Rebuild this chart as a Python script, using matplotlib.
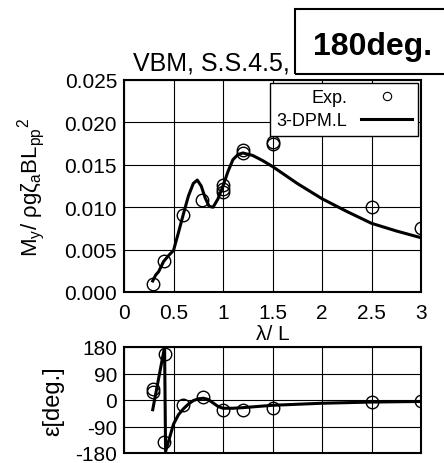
import numpy as np
import matplotlib
matplotlib.use('Agg')
import matplotlib.pyplot as plt
from matplotlib.lines import Line2D
from matplotlib.patches import Rectangle

plt.rcParams['font.family'] = ['Liberation Sans', 'DejaVu Sans']
plt.rcParams['mathtext.fontset'] = 'custom'
plt.rcParams['mathtext.rm'] = 'Liberation Sans'
plt.rcParams['mathtext.it'] = 'Liberation Sans:italic'
plt.rcParams['axes.unicode_minus'] = False

# esperimenti: ampiezza VBM
lam_exp = [0.29, 0.40, 0.60, 0.79, 1.0, 1.0, 1.0, 1.2, 1.2, 1.5, 1.5, 2.5, 3.0]
amp_exp = [0.0010, 0.0036, 0.0091, 0.0109, 0.0126, 0.0122, 0.0118,
           0.0167, 0.0164, 0.01765, 0.0175, 0.0100, 0.0075]

# calcolo 3-DPM.L: ampiezza
lam_calc = [0.29, 0.32, 0.35, 0.40, 0.45, 0.50, 0.55, 0.60, 0.65, 0.70,
            0.74, 0.78, 0.82, 0.86, 0.90, 0.95, 1.00, 1.05, 1.10, 1.15,
            1.20, 1.30, 1.40, 1.50, 1.75, 2.00, 2.25, 2.50, 2.75, 3.00]
amp_calc = [0.0013, 0.0020, 0.0024, 0.0036, 0.0043, 0.0049, 0.0070, 0.0092,
            0.0113, 0.0128, 0.0132, 0.0125, 0.0111, 0.0101, 0.0100, 0.0110,
            0.0125, 0.0142, 0.0156, 0.0162, 0.0164, 0.0161, 0.0155, 0.0148,
            0.0128, 0.0110, 0.0095, 0.0081, 0.0072, 0.0064]

# fase
lam_exp_ph = [0.29, 0.29, 0.41, 0.40, 0.60, 0.80, 1.0, 1.2, 1.5, 2.5, 3.0]
eps_exp = [37, 28, 156, -144, -17, 9, -34, -34, -28, -8, -4]

lam_calc_ph = [0.29, 0.41, 0.42, 0.45, 0.50, 0.55, 0.60, 0.65, 0.70, 0.75,
               0.80, 0.85, 0.90, 0.95, 1.00, 1.10, 1.20, 1.50, 2.00, 2.50, 3.00]
eps_calc = [-33, 180, -175, -140, -82, -50, -30, -14, -2, 4,
            6, 2, -10, -22, -28, -28, -26, -18, -11, -7, -5]

fig = plt.figure(figsize=(4.44, 4.64), dpi=100)
ax1 = fig.add_axes([124/444, 1-293/464, 297/444, 212/464])
ax2 = fig.add_axes([124/444, 1-454/464, 297/444, 106/464])

mk = dict(marker='o', ls='none', ms=9, mfc='none', mec='black', mew=1.0)

ax1.plot(lam_calc, amp_calc, color='black', lw=2.2)
ax1.plot(lam_exp, amp_exp, **mk)
ax1.set_xlim(0, 3)
ax1.set_ylim(0, 0.025)
ax1.set_xticks([0, 0.5, 1, 1.5, 2, 2.5, 3])
ax1.set_xticklabels(['0', '0.5', '1', '1.5', '2', '2.5', '3'])
ax1.set_yticks([0, 0.005, 0.010, 0.015, 0.020, 0.025])
ax1.set_yticklabels(['0.000', '0.005', '0.010', '0.015', '0.020', '0.025'])
ax1.set_xlabel('λ/ L', fontsize=15)
ax1.xaxis.set_label_coords(0.5, -0.15)
ax1.set_ylabel(r'M$_\mathrm{y}$/ ρgζ$_\mathrm{a}$BL$_\mathrm{pp}$$^\mathrm{2}$', fontsize=16)
ax1.yaxis.set_label_coords(-0.26, 0.5)

handles = [Line2D([], [], marker='o', ls='none', ms=6, mfc='none', mec='black', mew=0.8),
           Line2D([], [], color='black', lw=2.2)]
leg = ax1.legend(handles, ['Exp.', '3-DPM.L'], loc='upper right', fontsize=13,
                 markerfirst=False, fancybox=False, framealpha=1, edgecolor='black',
                 borderaxespad=0.15, borderpad=0.35, labelspacing=0.35,
                 handlelength=2.8, handletextpad=0.8)
leg.get_frame().set_linewidth(1.0)

ax2.plot(lam_calc_ph, eps_calc, color='black', lw=2.2)
ax2.plot(lam_exp_ph, eps_exp, **mk)
ax2.set_xlim(0, 3)
ax2.set_ylim(-180, 180)
ax2.set_xticks([0, 0.5, 1, 1.5, 2, 2.5, 3])
ax2.set_xticklabels([])
ax2.set_yticks([-180, -90, 0, 90, 180])
ax2.set_ylabel('ε[deg.]', fontsize=17)
ax2.yaxis.set_label_coords(-0.2, 0.5)

for ax in (ax1, ax2):
    ax.grid(True, color='black', lw=0.8)
    ax.set_axisbelow(True)
    ax.tick_params(length=0, labelsize=15)
    ax.tick_params(axis='y', pad=5)
    ax.tick_params(axis='x', pad=8)
    for s in ax.spines.values():
        s.set_linewidth(1.5)

fig.text(290/444, 1-71/464, 'VBM, S.S.4.5,', fontsize=18, ha='right', va='baseline')
fig.patches.append(Rectangle((295/444, 1-75/464), 0.4, 65/464, transform=fig.transFigure,
                             fill=False, edgecolor='black', lw=1.5))
fig.text(313/444, 1-55/464, '180deg.', fontsize=23, fontweight='bold', ha='left', va='baseline')

fig.savefig('out.png', dpi=100)
